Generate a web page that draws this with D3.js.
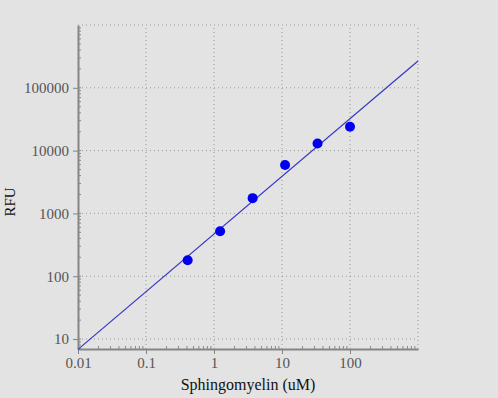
<!DOCTYPE html>
<html>
<head>
<meta charset="utf-8">
<script src="https://cdn.jsdelivr.net/npm/d3@7"></script>
<style>
  body { margin: 0; background: #e3e3e3; }
  svg { display: block; font-family: "Liberation Serif", "Times New Roman", serif; }
</style>
</head>
<body>
<svg id="chart"></svg>
<script>
// sphingomyelin standard (uM) vs fluorescence
const concentrations = [0.41, 1.23, 3.7, 11.1, 33.3, 100]
const rfu = [180, 520, 1750, 5900, 13000, 24000]
const xTickValues = [0.01, 0.1, 1, 10, 100]
const yTickValues = [10, 100, 1000, 10000, 100000]

const width = 498, height = 398
const margin = {top: 25, right: 80, bottom: 49, left: 78}

const svg = d3.select("#chart")
  .attr("width", width)
  .attr("height", height)

const x = d3.scaleLog()
  .domain([0.01, 1000])
  .range([margin.left, width - margin.right])

const y = d3.scaleLog()
  .domain([6.94, 1e6])
  .range([height - margin.bottom, margin.top])

// grid (dotted), including top and right borders
const grid = svg.append("g")
  .attr("stroke", "#9a9a9a")
  .attr("stroke-dasharray", "1,3")
  .attr("stroke-width", 1)

grid.selectAll(".vg")
  .data(xTickValues.slice(1).concat([1000]))
  .join("line")
  .attr("x1", d => x(d)).attr("x2", d => x(d))
  .attr("y1", y.range()[0]).attr("y2", margin.top)

grid.selectAll(".hg")
  .data(yTickValues.concat([1e6]))
  .join("line")
  .attr("x1", margin.left).attr("x2", width - margin.right)
  .attr("y1", d => y(d)).attr("y2", d => y(d))

// minor ticks on the axes
const minorX = []
for (let e = -2; e < 3; e++) for (let m = 2; m < 10; m++) minorX.push(m * Math.pow(10, e))
const minorY = []
for (let e = 0; e < 6; e++) for (let m = 1; m < 10; m++) {
  const v = m * Math.pow(10, e)
  if (v >= y.domain()[0]) minorY.push(v)
}

svg.append("g").selectAll("line")
  .data(minorX)
  .join("line")
  .attr("x1", d => x(d)).attr("x2", d => x(d))
  .attr("y1", y.range()[0]).attr("y2", y.range()[0] - 3)
  .attr("stroke", "#8a8a8a")

svg.append("g").selectAll("line")
  .data(minorY)
  .join("line")
  .attr("x1", margin.left).attr("x2", margin.left + 3)
  .attr("y1", d => y(d)).attr("y2", d => y(d))
  .attr("stroke", "#8a8a8a")

// axes
const xAxis = svg.append("g")
  .attr("transform", `translate(0,${height - margin.bottom})`)
  .call(d3.axisBottom(x).tickValues(xTickValues).tickFormat(d => String(d)).tickSize(5).tickSizeOuter(0))

const yAxis = svg.append("g")
  .attr("transform", `translate(${margin.left},0)`)
  .call(d3.axisLeft(y).tickValues(yTickValues).tickFormat(d => String(d)).tickSize(5).tickSizeOuter(0))

for (const ax of [xAxis, yAxis]) {
  ax.select(".domain").attr("stroke", "#858585").attr("stroke-width", 2)
  ax.selectAll(".tick line").attr("stroke", "#858585")
  ax.selectAll(".tick text")
    .attr("fill", "#555")
    .style("font-size", "15px")
    .style("font-family", "Liberation Serif, serif")
}
xAxis.selectAll(".tick text").attr("dy", "0.72em")
yAxis.selectAll(".tick text").attr("dx", "-1px")

// regression line in log-log space
const lx = concentrations.map(Math.log10)
const ly = rfu.map(Math.log10)
const mx = d3.mean(lx), my = d3.mean(ly)
const slope = d3.sum(lx, (v, i) => (v - mx) * (ly[i] - my)) / d3.sum(lx, v => (v - mx) * (v - mx))
const icpt = my - slope * mx
const fit = xv => Math.pow(10, icpt + slope * Math.log10(xv))

svg.append("line")
  .attr("x1", x(0.01)).attr("y1", y(fit(0.01)))
  .attr("x2", x(1000)).attr("y2", y(fit(1000)))
  .attr("stroke", "#3535c8")
  .attr("stroke-width", 1.2)

// points
svg.append("g").selectAll("circle")
  .data(concentrations)
  .join("circle")
  .attr("cx", d => x(d))
  .attr("cy", (d, i) => y(rfu[i]))
  .attr("r", 5)
  .attr("fill", "#0000ee")

// axis titles
svg.append("text")
  .attr("x", 248)
  .attr("y", 390)
  .attr("text-anchor", "middle")
  .style("font-size", "16px")
  .attr("fill", "#111")
  .text("Sphingomyelin (uM)")

svg.append("text")
  .attr("transform", "translate(15,202) rotate(-90)")
  .attr("text-anchor", "middle")
  .style("font-size", "15px")
  .attr("fill", "#111")
  .text("RFU")
</script>
</body>
</html>
